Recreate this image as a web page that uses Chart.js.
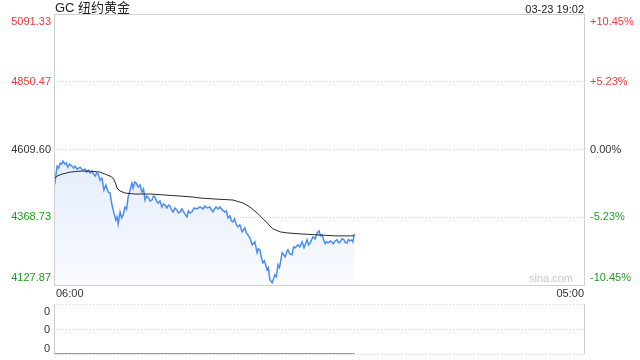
<!DOCTYPE html>
<html>
<head>
<meta charset="utf-8">
<title>GC 纽约黄金</title>
<script src="https://cdn.jsdelivr.net/npm/chart.js@4.4.1/dist/chart.umd.min.js"></script>
<style>
    body { margin: 0; background: #fff; }
    #wrap { position: relative; width: 640px; height: 360px; font-family: "Liberation Sans", Arial, "Noto Sans CJK SC", sans-serif; }
    #title { position: absolute; left: 55px; top: 0; line-height: 16px; font-size: 13px; color: #222; }
    #stamp { position: absolute; right: 56px; top: 1px; line-height: 16px; font-size: 11px; color: #222; }
    #mainChart { position: absolute; left: 0; top: 0; }
    #volChart { position: absolute; left: 0; top: 296px; }
</style>
</head>
<body>
<div id="wrap">
    <canvas id="mainChart" width="640" height="300"></canvas>
    <canvas id="volChart" width="640" height="64"></canvas>
    <div id="title">GC 纽约黄金</div>
    <div id="stamp">03-23 19:02</div>
</div>

<script>
// price ticks (left) and change ticks (right)
const priceTicks = [5091.33, 4850.47, 4609.60, 4368.73, 4127.87];
const pctTicks = ["+10.45%", "+5.23%", "0.00%", "-5.23%", "-10.45%"];
const timeLabels = ["06:00", "05:00"];

// minute line
const priceTimes = [
    "06:00", "06:03", "06:08", "06:12", "06:16", "06:20", "06:23", "06:29", "06:32", "06:36",
    "06:41", "06:47", "06:51", "06:55", "07:00", "07:08", "07:14", "07:21", "07:25", "07:29",
    "07:34", "07:39", "07:43", "07:47", "07:51", "07:55", "08:00", "08:05", "08:10", "08:15",
    "08:21", "08:26", "08:31", "08:36", "08:41", "08:44", "08:47", "08:52", "08:56", "09:00",
    "09:05", "09:09", "09:13", "09:18", "09:23", "09:26", "09:30", "09:34", "09:39", "09:44",
    "09:49", "09:53", "09:57", "10:01", "10:05", "10:10", "10:15", "10:19", "10:23", "10:27",
    "10:31", "10:36", "10:41", "10:45", "10:49", "10:54", "10:58", "11:02", "11:06", "11:10",
    "11:15", "11:20", "11:24", "11:28", "11:33", "11:39", "11:46", "11:50", "11:54", "11:59",
    "12:05", "12:12", "12:20", "12:28", "12:33", "12:38", "12:46", "12:50", "12:54", "12:58",
    "13:02", "13:07", "13:12", "13:18", "13:25", "13:29", "13:33", "13:38", "13:42", "13:46",
    "13:50", "13:55", "13:59", "14:04", "14:10", "14:17", "14:21", "14:25", "14:30", "14:36",
    "14:43", "14:49", "14:52", "14:56", "15:00", "15:04", "15:08", "15:15", "15:18", "15:22",
    "15:28", "15:35", "15:39", "15:43", "15:47", "15:54", "16:02", "16:06", "16:09", "16:14",
    "16:20", "16:24", "16:28", "16:35", "16:40", "16:46", "16:51", "16:55", "16:59", "17:03",
    "17:07", "17:14", "17:20", "17:25", "17:30", "17:34", "17:38", "17:42", "17:46", "17:50",
    "17:54", "18:00", "18:07", "18:12", "18:17", "18:21", "18:25", "18:30", "18:35", "18:39",
    "18:43", "18:47", "18:50", "18:55", "18:58", "19:02"
];
const prices = [
    4515.0, 4497.3, 4550.4, 4543.4, 4561.1, 4557.5, 4568.2, 4557.5, 4561.1, 4546.9,
    4557.5, 4550.4, 4543.4, 4550.4, 4539.8, 4546.9, 4536.3, 4539.8, 4529.2, 4536.3,
    4525.6, 4532.7, 4522.1, 4515.0, 4525.6, 4522.1, 4500.9, 4507.9, 4465.4, 4483.2,
    4458.4, 4454.8, 4412.3, 4384.0, 4359.2, 4369.8, 4345.0, 4387.5, 4366.3, 4376.9,
    4405.2, 4398.1, 4440.6, 4465.4, 4490.2, 4472.5, 4494.0, 4490.2, 4476.1, 4483.2,
    4458.4, 4469.0, 4430.0, 4444.2, 4440.6, 4426.4, 4430.0, 4444.2, 4440.6, 4426.4,
    4419.4, 4426.4, 4405.2, 4415.8, 4412.3, 4401.7, 4412.3, 4408.8, 4394.6, 4387.5,
    4401.7, 4394.6, 4384.0, 4387.5, 4398.1, 4384.0, 4369.8, 4391.0, 4384.0, 4387.5,
    4401.7, 4398.1, 4405.2, 4398.1, 4408.8, 4401.7, 4405.2, 4394.6, 4387.5, 4398.1,
    4405.2, 4398.1, 4405.2, 4394.6, 4387.5, 4391.0, 4366.3, 4373.4, 4355.6, 4352.1,
    4362.7, 4341.5, 4334.4, 4341.5, 4316.7, 4330.8, 4313.1, 4306.1, 4295.5, 4270.6,
    4281.3, 4242.3, 4256.4, 4252.9, 4224.6, 4206.9, 4214.0, 4182.1, 4189.2, 4146.7,
    4136.0, 4164.4, 4157.3, 4199.8, 4189.2, 4242.3, 4228.1, 4245.8, 4252.9, 4238.7,
    4235.2, 4263.5, 4260.0, 4270.6, 4263.5, 4281.3, 4260.0, 4274.2, 4288.3, 4270.6,
    4277.7, 4299.0, 4292.0, 4313.1, 4320.2, 4302.5, 4306.1, 4288.3, 4274.2, 4281.3,
    4277.7, 4285.0, 4274.2, 4284.8, 4288.3, 4278.0, 4281.3, 4292.0, 4288.3, 4278.0,
    4277.7, 4290.0, 4284.8, 4288.3, 4281.3, 4309.6
];

// average price line
const avgTimes = [
    "06:00", "06:08", "06:21", "06:42", "07:08", "07:34", "08:00", "08:13", "08:26", "08:34",
    "08:39", "08:44", "08:52", "09:05", "09:31", "10:10", "10:49", "11:28", "12:02", "12:20",
    "12:59", "13:46", "14:12", "14:30", "14:49", "15:02", "15:15", "15:30", "15:49", "16:07",
    "16:41", "17:25", "18:12", "19:02"
];
const avgPrices = [
    4504.4, 4515.0, 4522.1, 4529.2, 4532.7, 4532.7, 4529.2, 4522.1, 4515.0, 4507.9,
    4493.8, 4472.5, 4461.9, 4454.8, 4451.3, 4451.3, 4447.7, 4444.2, 4440.6, 4437.1,
    4433.6, 4430.0, 4419.4, 4405.2, 4384.0, 4366.3, 4348.6, 4327.3, 4316.7, 4313.1,
    4309.6, 4306.1, 4302.5, 4302.5
];

// volume pane (all zero)
const volTimes = ["06:00", "19:02"];
const volumes = [0, 0];
const volTicks = [1, 0.5, 0];
const volTickLabels = ["0", "0", "0"];

const RED = "#f03a3a";
const GREEN = "#1e9e1e";
const DARK = "#333";
const FONT = '11px "Liberation Sans", Arial, sans-serif';

// minutes since 06:00 (session runs to 05:00 next day)
function toMinutes(t) {
    const parts = t.split(":");
    const m = parseInt(parts[0]) * 60 + parseInt(parts[1]);
    return (m - 360 + 1440) % 1440;
}

function toPoints(times, values) {
    return times.map((t, i) => ({ x: toMinutes(t), y: values[i] }));
}

function tickColor(i, n) {
    if (i < (n - 1) / 2) return RED;
    if (i > (n - 1) / 2) return GREEN;
    return DARK;
}

// draws axis labels by hand so the top/bottom ones sit inside the frame
const mainLabels = {
    id: "mainLabels",
    afterDraw(chart) {
        const ctx = chart.ctx;
        const area = chart.chartArea;
        const y = chart.scales.y;
        ctx.save();
        ctx.font = FONT;
        ctx.textBaseline = "middle";

        priceTicks.forEach((v, i) => {
            let py = y.getPixelForValue(v);
            if (i === 0) py += 8;
            if (i === priceTicks.length - 1) py -= 7;
            ctx.fillStyle = tickColor(i, priceTicks.length);
            ctx.textAlign = "right";
            ctx.fillText(v.toFixed(2), area.left - 3, py);
            ctx.textAlign = "left";
            ctx.fillText(pctTicks[i], area.right + 6, py);
        });

        ctx.fillStyle = DARK;
        ctx.textAlign = "left";
        ctx.fillText(timeLabels[0], area.left + 2, area.bottom + 9);
        ctx.textAlign = "right";
        ctx.fillText(timeLabels[1], area.right, area.bottom + 9);

        ctx.fillStyle = "#c8c8c8";
        ctx.fillText("sina.com", area.right - 11, area.bottom - 6);

        // frame
        ctx.strokeStyle = "#d0d0d0";
        ctx.lineWidth = 1;
        ctx.strokeRect(Math.round(area.left) + 0.5, Math.round(area.top) + 0.5,
            Math.round(area.right - area.left), Math.round(area.bottom - area.top));
        ctx.restore();
    }
};

const volLabels = {
    id: "volLabels",
    afterDraw(chart) {
        const ctx = chart.ctx;
        const area = chart.chartArea;
        const y = chart.scales.y;
        ctx.save();
        ctx.font = FONT;
        ctx.textBaseline = "middle";
        ctx.textAlign = "right";
        ctx.fillStyle = DARK;
        volTicks.forEach((v, i) => {
            let py = y.getPixelForValue(v) + 1;
            if (i === 0) py += 7;
            if (i === volTicks.length - 1) py -= 6;
            ctx.fillText(volTickLabels[i], area.left - 4, py);
        });
        ctx.strokeStyle = "#d0d0d0";
        ctx.lineWidth = 1;
        ctx.beginPath();
        ctx.moveTo(Math.round(area.left) + 0.5, area.top);
        ctx.lineTo(Math.round(area.left) + 0.5, area.bottom);
        ctx.moveTo(Math.round(area.right) + 0.5, area.top);
        ctx.lineTo(Math.round(area.right) + 0.5, area.bottom);
        ctx.stroke();
        ctx.restore();
    }
};

function createMainChart() {
    const ctx = document.getElementById("mainChart").getContext("2d");

    new Chart(ctx, {
        type: "line",
        data: {
            datasets: [{
                label: "均价",
                data: toPoints(avgTimes, avgPrices),
                borderColor: "#2a2a2a",
                borderWidth: 1,
                pointRadius: 0,
                fill: false,
                order: 0
            }, {
                label: "价格",
                data: toPoints(priceTimes, prices),
                borderColor: "#4b8df0",
                borderWidth: 1.5,
                pointRadius: 0,
                fill: "start",
                backgroundColor: function (context) {
                    const area = context.chart.chartArea;
                    if (!area) return "rgba(0,0,0,0)";
                    const g = context.chart.ctx.createLinearGradient(0, area.top + 130, 0, area.bottom);
                    g.addColorStop(0, "#e2ebfb");
                    g.addColorStop(1, "#f9fbff");
                    return g;
                },
                order: 1
            }]
        },
        options: {
            responsive: false,
            animation: false,
            layout: { padding: { top: 14, left: 0, right: 0, bottom: 0 } },
            plugins: {
                legend: { display: false },
                tooltip: { enabled: false }
            },
            scales: {
                x: {
                    type: "linear",
                    min: 0,
                    max: 1380,
                    ticks: { display: false },
                    grid: { display: false },
                    border: { display: false },
                    afterFit: s => { s.height = 15; }
                },
                y: {
                    position: "left",
                    min: priceTicks[priceTicks.length - 1],
                    max: priceTicks[0],
                    afterBuildTicks: s => { s.ticks = priceTicks.map(v => ({ value: v })); },
                    ticks: { display: false },
                    grid: {
                        drawTicks: false,
                        color: c => (c.index === 0 || c.index === priceTicks.length - 1) ? "rgba(0,0,0,0)" : "#cfcfcf"
                    },
                    border: { display: false, dash: [1, 2] },
                    afterFit: s => { s.width = 54; }
                },
                pct: {
                    position: "right",
                    min: -10.45,
                    max: 10.45,
                    ticks: { display: false },
                    grid: { display: false },
                    border: { display: false },
                    afterFit: s => { s.width = 56; }
                }
            }
        },
        plugins: [mainLabels]
    });
}

function createVolumeChart() {
    const ctx = document.getElementById("volChart").getContext("2d");

    new Chart(ctx, {
        type: "line",
        data: {
            datasets: [{
                label: "成交量",
                data: toPoints(volTimes, volumes),
                borderColor: "#777",
                borderWidth: 1.5,
                pointRadius: 0,
                fill: false
            }]
        },
        options: {
            responsive: false,
            animation: false,
            layout: { padding: { top: 8, left: 0, right: 56, bottom: 6 } },
            plugins: {
                legend: { display: false },
                tooltip: { enabled: false }
            },
            scales: {
                x: {
                    type: "linear",
                    min: 0,
                    max: 1380,
                    display: false
                },
                y: {
                    min: 0,
                    max: 1,
                    afterBuildTicks: s => { s.ticks = volTicks.map(v => ({ value: v })); },
                    ticks: { display: false },
                    grid: { drawTicks: false, color: "#cfcfcf" },
                    border: { display: false, dash: [1, 2] },
                    afterFit: s => { s.width = 54; }
                }
            }
        },
        plugins: [volLabels]
    });
}

window.onload = function () {
    createMainChart();
    createVolumeChart();
};
</script>
</body>
</html>
